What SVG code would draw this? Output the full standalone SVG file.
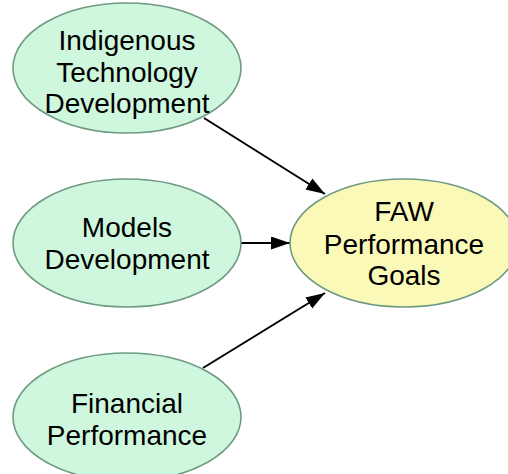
<svg xmlns="http://www.w3.org/2000/svg" width="508" height="474" viewBox="0 0 508 474">
<style>
.src{fill:#cef7de;stroke:#6f9a82;stroke-width:1.6}
.goal{fill:#fbf9b8;stroke:#6f9a82;stroke-width:1.6}
.lbl{font-family:"Liberation Sans",Arial,sans-serif;font-size:28px;fill:#000;text-anchor:middle}
.edge{stroke:#000;stroke-width:2;fill:none}
</style>
<defs>
<marker id="arr" markerUnits="userSpaceOnUse" markerWidth="20" markerHeight="14" refX="19" refY="6.5" orient="auto">
<path d="M0,0 L19,6.5 L0,13 Z" fill="#000"/>
</marker>
</defs>
<rect width="508" height="474" fill="#fff"/>
<g id="connectors">
<line class="edge" x1="204" y1="118" x2="325" y2="194" marker-end="url(#arr)"/>
<line class="edge" x1="240" y1="243" x2="290" y2="243" marker-end="url(#arr)"/>
<line class="edge" x1="203" y1="368" x2="325" y2="293" marker-end="url(#arr)"/>
</g>
<g id="indigenous">
<ellipse class="src" cx="127" cy="68" rx="114" ry="65"/>
<text class="lbl" x="127" y="50">Indigenous</text>
<text class="lbl" x="127" y="82">Technology</text>
<text class="lbl" x="127" y="113">Development</text>
</g>
<g id="models">
<ellipse class="src" cx="127" cy="243" rx="114" ry="64"/>
<text class="lbl" x="127" y="237">Models</text>
<text class="lbl" x="127" y="269">Development</text>
</g>
<g id="financial">
<ellipse class="src" cx="127" cy="417" rx="114" ry="64"/>
<text class="lbl" x="127" y="413">Financial</text>
<text class="lbl" x="127" y="445">Performance</text>
</g>
<g id="faw">
<ellipse class="goal" cx="404" cy="243" rx="114" ry="64"/>
<text class="lbl" x="404" y="221">FAW</text>
<text class="lbl" x="404" y="254">Performance</text>
<text class="lbl" x="404" y="285">Goals</text>
</g>
</svg>
